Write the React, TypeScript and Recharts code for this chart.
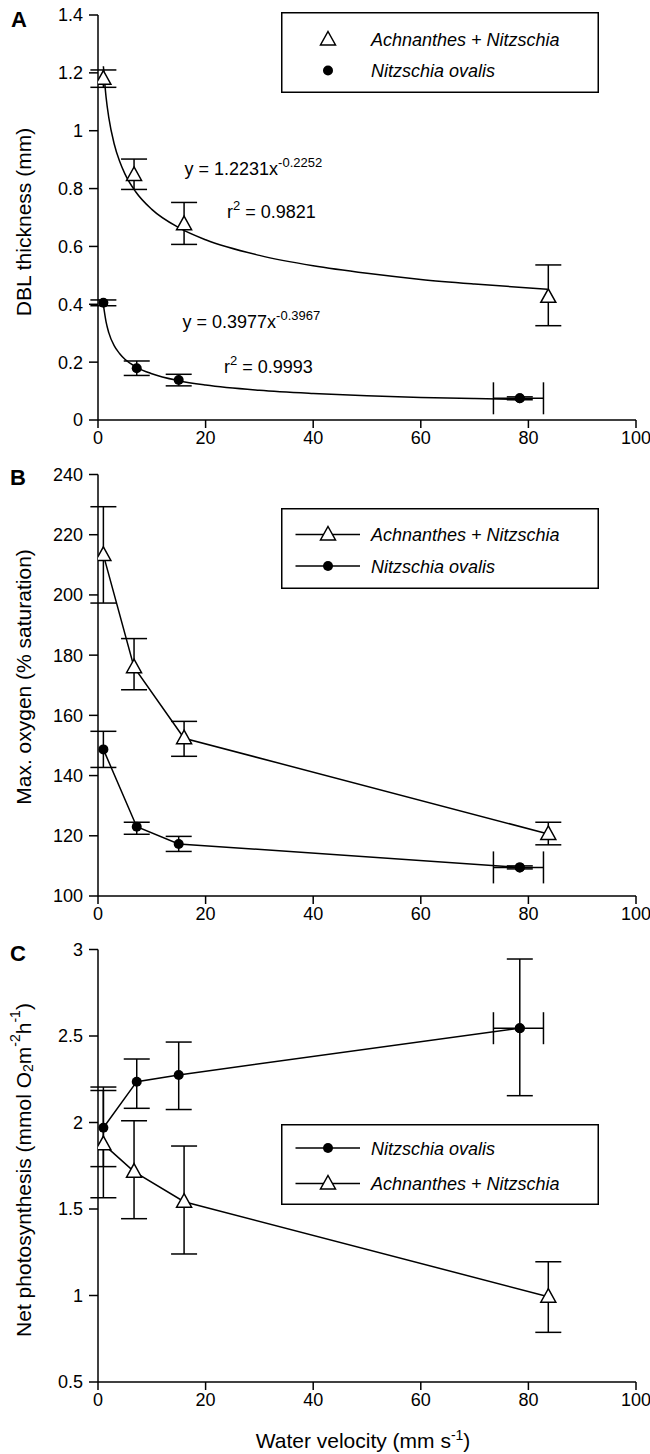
import React from "react";
import { ComposedChart, Scatter, XAxis, YAxis, ErrorBar, Legend } from "recharts";

const FONT = "'Liberation Sans', Arial, sans-serif";

// water velocity (mm s-1)
const xTicks = [0, 20, 40, 60, 80, 100];
const achVelocity = [1, 6.7, 16, 83.7];
const nitVelocity = [1, 7.2, 15, 78.4];
const nitLastVelocityErr = [4.9, 4.4];

// A: DBL thickness (mm)
const dblTicks = [0, 0.2, 0.4, 0.6, 0.8, 1, 1.2, 1.4];
const achDbl = [1.18, 0.847, 0.677, 0.426];
const achDblErr = [[0.03, 0.03], [0.05, 0.055], [0.07, 0.075], [0.1, 0.11]];
const nitDbl = [0.405, 0.179, 0.138, 0.075];
const nitDblErr = [[0.01, 0.01], [0.025, 0.025], [0.02, 0.02], [0.005, 0.005]];

// power fits
const achFitVelocity = [1, 1.5, 2, 3, 4, 5, 7, 10, 15, 20, 30, 40, 50, 60, 70, 83.5];
const achFit = [1.223, 1.116, 1.046, 0.955, 0.895, 0.851, 0.789, 0.728, 0.665, 0.623, 0.569, 0.533, 0.507, 0.486, 0.47, 0.452];
const nitFitVelocity = [1, 1.5, 2, 3, 4, 5, 7, 10, 15, 20, 30, 40, 50, 60, 70, 78.4];
const nitFit = [0.398, 0.339, 0.302, 0.257, 0.23, 0.21, 0.184, 0.16, 0.136, 0.121, 0.103, 0.092, 0.084, 0.078, 0.074, 0.071];

// B: max oxygen (% saturation)
const o2Ticks = [100, 120, 140, 160, 180, 200, 220, 240];
const achO2 = [213.3, 176, 152.4, 120.6];
const achO2Err = [[16, 16], [7.5, 9.5], [6, 5.6], [3.6, 3.9]];
const nitO2 = [148.7, 123, 117.3, 109.5];
const nitO2Err = [[6, 6], [2.5, 1.5], [2.5, 2.5], [0.5, 0.5]];

// C: net photosynthesis (mmol O2 m-2 h-1)
const psTicks = [0.5, 1, 1.5, 2, 2.5, 3];
const achPs = [1.875, 1.716, 1.542, 0.993];
const achPsErr = [[0.31, 0.31], [0.272, 0.294], [0.302, 0.322], [0.206, 0.202]];
const nitPs = [1.97, 2.236, 2.275, 2.545];
const nitPsErr = [[0.225, 0.235], [0.154, 0.131], [0.2, 0.19], [0.39, 0.4]];

const ACH = "Achnanthes + Nitzschia";
const NIT = "Nitzschia ovalis";

const pts = (xs: number[], ys: number[], errs?: number[][]) =>
  xs.map((x, i) => ({ x, y: ys[i], ey: errs ? errs[i] : undefined }));

const lastWithXErr = (xs: number[], ys: number[]) => [
  { x: xs[xs.length - 1], y: ys[ys.length - 1], ex: nitLastVelocityErr },
];

const Triangle = (p: any) => (
  <path
    d={`M${p.cx},${p.cy - 8}L${p.cx + 7.5},${p.cy + 5.5}L${p.cx - 7.5},${p.cy + 5.5}Z`}
    fill="#fff"
    stroke="#000"
    strokeWidth={1.5}
  />
);
const Dot = (p: any) => <circle cx={p.cx} cy={p.cy} r={5} fill="#000" />;
const NoShape = () => <g />;

const axisLine = { stroke: "#000", strokeWidth: 1.5 };
const tickStyle = { fill: "#000", fontSize: 18, fontFamily: FONT };

function legendBox(labels: string[], kinds: string[], rows: number[], withLines: boolean) {
  return () => (
    <svg width={318} height={81} style={{ display: "block" }}>
      <rect x={0.75} y={0.75} width={316.5} height={79.5} fill="#fff" stroke="#000" strokeWidth={1.5} />
      {labels.map((label, i) => (
        <g key={label}>
          {withLines && <line x1={14.5} x2={79} y1={rows[i]} y2={rows[i]} stroke="#000" strokeWidth={1.5} />}
          {kinds[i] === "tri" ? <Triangle cx={47} cy={rows[i]} /> : <Dot cx={47} cy={rows[i]} />}
          <text x={90} y={rows[i] + 6.5} fontSize={18} fontStyle="italic" fontFamily={FONT}>
            {label}
          </text>
        </g>
      ))}
    </svg>
  );
}

const xAxisEl = (
  <XAxis
    type="number"
    dataKey="x"
    domain={[0, 100]}
    ticks={xTicks}
    height={40}
    tickSize={8}
    tickMargin={3}
    axisLine={axisLine}
    tickLine={axisLine}
    tick={tickStyle}
    allowDataOverflow
  />
);

function yAxisEl(domain: number[], ticks: number[]) {
  return (
    <YAxis
      type="number"
      dataKey="y"
      domain={domain}
      ticks={ticks}
      width={98}
      tickSize={9}
      tickMargin={6}
      axisLine={axisLine}
      tickLine={axisLine}
      tick={tickStyle}
      allowDataOverflow
    />
  );
}

const lineStyle = { stroke: "#000", strokeWidth: 1.5 };

export default function App() {
  return (
    <div style={{ position: "absolute", left: 0, top: 0, width: 650, height: 1454, background: "#fff", overflow: "hidden" }}>
      <div style={{ position: "absolute", left: 0, top: 0 }}>
        <ComposedChart width={650} height={460} margin={{ top: 15, right: 14, bottom: 0, left: 0 }}>
          {xAxisEl}
          {yAxisEl([0, 1.4], dblTicks)}
          <Scatter data={pts(achFitVelocity, achFit)} line={lineStyle} lineJointType="monotoneX" shape={NoShape} isAnimationActive={false} />
          <Scatter data={pts(nitFitVelocity, nitFit)} line={lineStyle} lineJointType="monotoneX" shape={NoShape} isAnimationActive={false} />
          <Scatter data={pts(achVelocity, achDbl, achDblErr)} shape={Triangle} isAnimationActive={false}>
            <ErrorBar dataKey="ey" direction="y" width={13} stroke="#000" strokeWidth={1.5} isAnimationActive={false} />
          </Scatter>
          <Scatter data={pts(nitVelocity, nitDbl, nitDblErr)} shape={Dot} isAnimationActive={false}>
            <ErrorBar dataKey="ey" direction="y" width={13} stroke="#000" strokeWidth={1.5} isAnimationActive={false} />
          </Scatter>
          <Scatter data={lastWithXErr(nitVelocity, nitDbl)} shape={Dot} isAnimationActive={false}>
            <ErrorBar dataKey="ex" direction="x" width={16} stroke="#000" strokeWidth={1.5} isAnimationActive={false} />
          </Scatter>
          <Legend
            layout="vertical"
            align="center"
            verticalAlign="middle"
            wrapperStyle={{ left: 281, top: 12, width: 318, height: 81 }}
            content={legendBox([ACH, NIT], ["tri", "dot"], [27.5, 58.5], false)}
          />
        </ComposedChart>
      </div>

      <div style={{ position: "absolute", left: 0, top: 460 }}>
        <ComposedChart width={650} height={476} margin={{ top: 14.5, right: 14, bottom: 0, left: 0 }}>
          {xAxisEl}
          {yAxisEl([100, 240], o2Ticks)}
          <Scatter data={pts(achVelocity, achO2, achO2Err)} line={lineStyle} shape={Triangle} isAnimationActive={false}>
            <ErrorBar dataKey="ey" direction="y" width={13} stroke="#000" strokeWidth={1.5} isAnimationActive={false} />
          </Scatter>
          <Scatter data={pts(nitVelocity, nitO2, nitO2Err)} line={lineStyle} shape={Dot} isAnimationActive={false}>
            <ErrorBar dataKey="ey" direction="y" width={13} stroke="#000" strokeWidth={1.5} isAnimationActive={false} />
          </Scatter>
          <Scatter data={lastWithXErr(nitVelocity, nitO2)} shape={Dot} isAnimationActive={false}>
            <ErrorBar dataKey="ex" direction="x" width={16} stroke="#000" strokeWidth={1.5} isAnimationActive={false} />
          </Scatter>
          <Legend
            layout="vertical"
            align="center"
            verticalAlign="middle"
            wrapperStyle={{ left: 281, top: 47.5, width: 318, height: 81 }}
            content={legendBox([ACH, NIT], ["tri", "dot"], [26.5, 58], true)}
          />
        </ComposedChart>
      </div>

      <div style={{ position: "absolute", left: 0, top: 935 }}>
        <ComposedChart width={650} height={487} margin={{ top: 14.5, right: 14, bottom: 0, left: 0 }}>
          {xAxisEl}
          {yAxisEl([0.5, 3], psTicks)}
          <Scatter data={pts(nitVelocity, nitPs, nitPsErr)} line={lineStyle} shape={Dot} isAnimationActive={false}>
            <ErrorBar dataKey="ey" direction="y" width={13} stroke="#000" strokeWidth={1.5} isAnimationActive={false} />
          </Scatter>
          <Scatter data={lastWithXErr(nitVelocity, nitPs)} shape={Dot} isAnimationActive={false}>
            <ErrorBar dataKey="ex" direction="x" width={16} stroke="#000" strokeWidth={1.5} isAnimationActive={false} />
          </Scatter>
          <Scatter data={pts(achVelocity, achPs, achPsErr)} line={lineStyle} shape={Triangle} isAnimationActive={false}>
            <ErrorBar dataKey="ey" direction="y" width={13} stroke="#000" strokeWidth={1.5} isAnimationActive={false} />
          </Scatter>
          <Legend
            layout="vertical"
            align="center"
            verticalAlign="middle"
            wrapperStyle={{ left: 281, top: 189, width: 318, height: 81 }}
            content={legendBox([NIT, ACH], ["dot", "tri"], [24, 59.5], true)}
          />
        </ComposedChart>
      </div>

      <svg
        width={650}
        height={1454}
        style={{ position: "absolute", left: 0, top: 0, pointerEvents: "none" }}
        fontFamily={FONT}
      >
        <text x={19} y={27} textAnchor="middle" fontSize={22} fontWeight="bold">A</text>
        <text x={18} y={485} textAnchor="middle" fontSize={22} fontWeight="bold">B</text>
        <text x={18} y={961} textAnchor="middle" fontSize={22} fontWeight="bold">C</text>

        <text transform="translate(23,222) rotate(-90)" textAnchor="middle" dominantBaseline="central" fontSize={21}>
          DBL thickness (mm)
        </text>
        <text transform="translate(23,677) rotate(-90)" textAnchor="middle" dominantBaseline="central" fontSize={21}>
          Max. oxygen (% saturation)
        </text>
        <text transform="translate(23,1170) rotate(-90)" textAnchor="middle" dominantBaseline="central" fontSize={21}>
          Net photosynthesis (mmol O<tspan fontSize={14} dy={5}>2</tspan>
          <tspan dy={-5}>m</tspan>
          <tspan fontSize={14} dy={-8}>-2</tspan>
          <tspan dy={8}>h</tspan>
          <tspan fontSize={14} dy={-8}>-1</tspan>
          <tspan dy={8}>)</tspan>
        </text>
        <text x={363} y={1448} textAnchor="middle" fontSize={21}>
          Water velocity (mm s<tspan fontSize={14} dy={-8}>-1</tspan>
          <tspan dy={8}>)</tspan>
        </text>

        <text x={184.5} y={174.5} fontSize={18}>
          y = 1.2231x<tspan fontSize={13} dy={-8}>-0.2252</tspan>
        </text>
        <text x={227} y={218} fontSize={18}>
          r<tspan fontSize={13} dy={-8}>2</tspan>
          <tspan dy={8}> = 0.9821</tspan>
        </text>
        <text x={182.5} y={328} fontSize={18}>
          y = 0.3977x<tspan fontSize={13} dy={-8}>-0.3967</tspan>
        </text>
        <text x={224} y={372.5} fontSize={18}>
          r<tspan fontSize={13} dy={-8}>2</tspan>
          <tspan dy={8}> = 0.9993</tspan>
        </text>
      </svg>
    </div>
  );
}
